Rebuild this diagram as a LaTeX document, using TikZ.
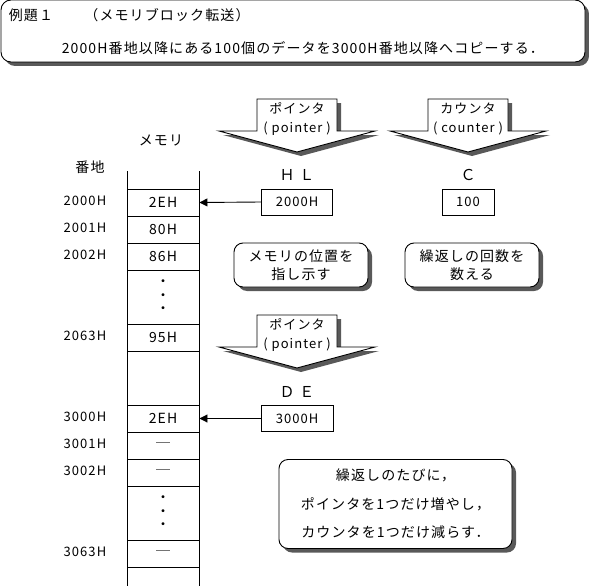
\documentclass[tikz,border=0pt]{standalone}
\usepackage{fontspec}
\setmainfont{Noto Sans CJK JP}[LetterSpace=8]
\newcommand\jpsize[2]{\fontsize{#1pt}{#2pt}\selectfont}
\usepackage{tikz}
\usetikzlibrary{
  arrows.meta,
  positioning,
  shadows
}

\begin{document}
\begin{tikzpicture}[
  x=1pt, y=-1pt, line width=0.9pt,
  panel/.style={rectangle, draw, fill=white, rounded corners=10pt, minimum width=584pt, minimum height=62pt, drop shadow={opacity=1, fill=black!65, shadow xshift=4pt, shadow yshift=-4pt}},
  note/.style={rectangle, draw, fill=white, rounded corners=9pt, align=center, inner sep=0pt, font=\jpsize{14}{18}, drop shadow={opacity=1, fill=black!65, shadow xshift=4pt, shadow yshift=-4pt}},
  cell/.style={rectangle, draw, minimum width=72pt, minimum height=27pt, inner sep=0pt, font=\jpsize{14}{13.5}, align=center},
  addr/.style={anchor=east, font=\jpsize{13}{13}},
  reg/.style={rectangle, draw, minimum height=26pt, inner sep=0pt, font=\jpsize{13}{13}},
  reglabel/.style={font=\jpsize{15}{15}},
  arrowtext/.style={align=center, font=\jpsize{13}{19}},
  blockarrow/.style={draw, fill=white, line join=miter},
  blockshadow/.style={fill=black!65},
  ptr/.style={-{Triangle[length=8pt, width=8pt]}}
]
  \useasboundingbox (0,0) rectangle (589,586);

  % problem statement
  \node[panel] (titlebox) at (293,31) {};
  \node[anchor=west, font=\jpsize{14}{14}] (title) at (5,15.5) {例題１　　（メモリブロック転送）};
  \node[anchor=west, font=\jpsize{14}{14}] (task) at (58,48) {2000H番地以降にある100個のデータを3000H番地以降へコピーする．};

  % memory
  \node[font=\jpsize{14}{14}] (memlabel) at (161,140) {メモリ};
  \node[font=\jpsize{14}{14}] (addrlabel) at (90,167) {番地};
  \draw (127,171) -- (127,586);
  \draw (199,171) -- (199,586);
  \node[cell] (m2000) at (163,202.5) {2EH};
  \node[cell] (m2001) at (163,229.5) {80H};
  \node[cell] (m2002) at (163,256.5) {86H};
  \node[cell, minimum height=54pt] (mdotsA) at (163,297) {・\\・\\・};
  \node[cell] (m2063) at (163,337.5) {95H};
  \node[cell, minimum height=54pt] (mgap) at (163,378) {};
  \node[cell] (m3000) at (163,418.5) {2EH};
  \node[cell] (m3001) at (163,445.5) {─};
  \node[cell] (m3002) at (163,472.5) {─};
  \node[cell, minimum height=54pt] (mdotsB) at (163,513) {・\\・\\・};
  \node[cell] (m3063) at (163,553.5) {─};

  \node[addr] (a2000) at (110,201) {2000H};
  \node[addr] (a2001) at (110,228) {2001H};
  \node[addr] (a2002) at (110,255) {2002H};
  \node[addr] (a2063) at (110,336) {2063H};
  \node[addr] (a3000) at (110,417) {3000H};
  \node[addr] (a3001) at (110,444) {3001H};
  \node[addr] (a3002) at (110,471) {3002H};
  \node[addr] (a3063) at (110,552) {3063H};

  % pointer / counter arrows
  \foreach \cx/\ty in {297/99, 468/99, 297/315} {
    \fill[blockshadow, shift={(\cx+4,\ty+4)}] (-40,0) -- (40,0) -- (40,32) -- (78,32) -- (0,53) -- (-78,32) -- (-40,32) -- cycle;
    \filldraw[blockarrow, shift={(\cx,\ty)}] (-40,0) -- (40,0) -- (40,32) -- (78,32) -- (0,53) -- (-78,32) -- (-40,32) -- cycle;
  }
  \node[arrowtext] (ptrHL) at (297,119) {ポインタ\\( pointer )};
  \node[arrowtext] (cntC) at (468,119) {カウンタ\\( counter )};
  \node[arrowtext] (ptrDE) at (297,335) {ポインタ\\( pointer )};

  % registers
  \node[reglabel] (hllabel) at (297,175) {Ｈ Ｌ};
  \node[reg, minimum width=71pt] (hl) at (297,202) {2000H};
  \node[reglabel] (clabel) at (468,175) {Ｃ};
  \node[reg, minimum width=52pt] (c) at (468,202) {100};
  \node[reglabel] (delabel) at (297,391.5) {Ｄ Ｅ};
  \node[reg, minimum width=72pt] (de) at (297,418.5) {3000H};

  \draw[ptr] (hl.west) -- (m2000.east);
  \draw[ptr] (de.west) -- (m3000.east);

  % notes
  \node[note, minimum width=134pt, minimum height=44pt] (posnote) at (301,265) {メモリの位置を\\指し示す};
  \node[note, minimum width=134pt, minimum height=44pt] (cntnote) at (472,265) {繰返しの回数を\\数える};
  \node[note, minimum width=233pt, minimum height=89pt, font=\jpsize{14}{28.5}] (loopnote) at (395.5,504) {繰返しのたびに，\\ポインタを1つだけ増やし，\\カウンタを1つだけ減らす．};
\end{tikzpicture}
\end{document}
